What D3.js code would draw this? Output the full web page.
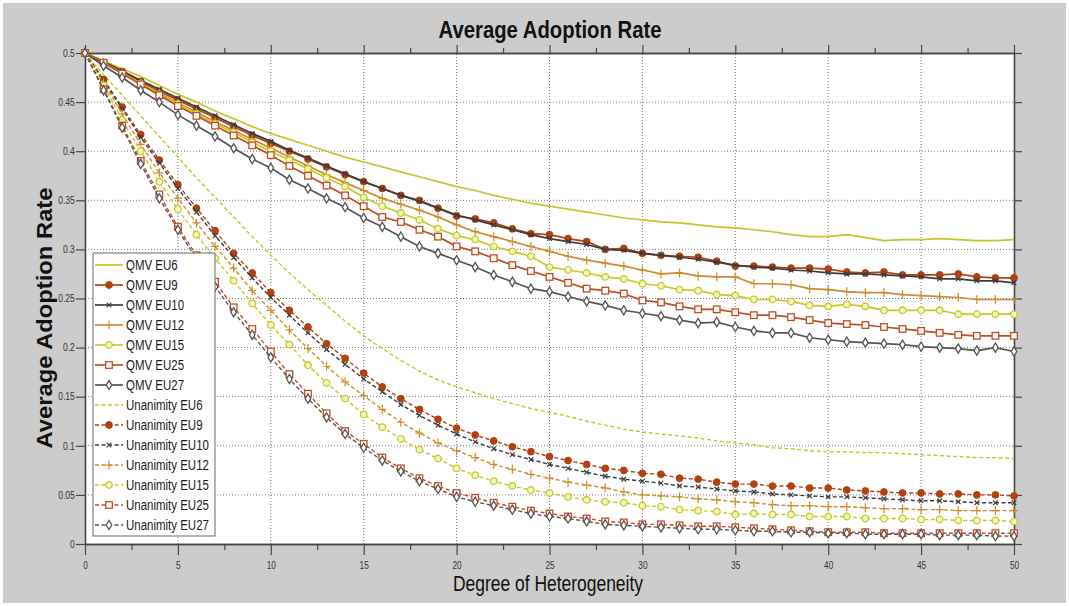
<!DOCTYPE html>
<html>
<head>
<meta charset="utf-8">
<script src="https://cdn.jsdelivr.net/npm/d3@7"></script>
<style>
  body { margin: 0; background: #fff; }
  svg text { font-family: "Liberation Sans", Arial, sans-serif; }
</style>
</head>
<body>
<svg id="chart" width="1069" height="606"></svg>
<script>
// degree of heterogeneity (x categories)
const degree = [0,1,2,3,4,5,6,7,8,9,10,11,12,13,14,15,16,17,18,19,20,21,22,23,24,25,
                26,27,28,29,30,31,32,33,34,35,36,37,38,39,40,41,42,43,44,45,46,47,48,49,50];

// QMV series
const qmvEU6  = [0.500,0.492,0.484,0.476,0.467,0.458,0.450,0.441,0.433,0.425,0.418,
                 0.412,0.406,0.400,0.394,0.389,0.384,0.379,0.374,0.369,0.364,
                 0.360,0.355,0.351,0.347,0.344,0.341,0.338,0.335,0.332,0.330,
                 0.328,0.327,0.325,0.323,0.322,0.320,0.318,0.315,0.313,0.313,
                 0.315,0.312,0.309,0.310,0.310,0.311,0.310,0.309,0.309,0.310];
const qmvEU9  = [0.500,0.490,0.481,0.471,0.461,0.452,0.443,0.434,0.425,0.416,0.408,
                 0.400,0.392,0.384,0.376,0.369,0.362,0.355,0.350,0.342,0.334,
                 0.331,0.327,0.321,0.316,0.315,0.311,0.308,0.300,0.301,0.296,
                 0.294,0.293,0.292,0.288,0.283,0.283,0.282,0.281,0.281,0.280,
                 0.277,0.276,0.277,0.274,0.274,0.274,0.275,0.272,0.271,0.271];
const qmvEU10 = [0.500,0.491,0.482,0.472,0.463,0.454,0.445,0.436,0.427,0.418,0.410,
                 0.401,0.393,0.385,0.377,0.369,0.362,0.355,0.349,0.342,0.335,
                 0.330,0.325,0.320,0.315,0.311,0.308,0.305,0.300,0.299,0.296,
                 0.294,0.292,0.290,0.287,0.284,0.282,0.281,0.279,0.278,0.276,
                 0.275,0.275,0.274,0.273,0.272,0.270,0.270,0.268,0.268,0.266];
const qmvEU12 = [0.500,0.490,0.480,0.469,0.459,0.449,0.440,0.430,0.421,0.412,0.403,
                 0.394,0.385,0.376,0.368,0.360,0.352,0.346,0.340,0.333,0.325,
                 0.318,0.313,0.308,0.303,0.298,0.293,0.289,0.286,0.283,0.279,
                 0.275,0.276,0.273,0.272,0.272,0.265,0.265,0.264,0.260,0.259,
                 0.257,0.256,0.256,0.254,0.253,0.252,0.251,0.249,0.249,0.249];
const qmvEU15 = [0.500,0.490,0.479,0.469,0.458,0.448,0.438,0.428,0.419,0.409,0.400,
                 0.391,0.382,0.373,0.364,0.353,0.344,0.337,0.330,0.321,0.314,
                 0.310,0.303,0.298,0.293,0.282,0.279,0.276,0.272,0.270,0.265,
                 0.263,0.259,0.258,0.254,0.253,0.249,0.249,0.247,0.243,0.242,
                 0.244,0.242,0.238,0.238,0.238,0.238,0.234,0.234,0.234,0.234];
const qmvEU25 = [0.500,0.490,0.479,0.468,0.457,0.446,0.436,0.426,0.416,0.406,0.396,
                 0.385,0.375,0.365,0.355,0.344,0.333,0.328,0.320,0.313,0.303,
                 0.298,0.291,0.284,0.278,0.272,0.266,0.260,0.258,0.255,0.248,
                 0.246,0.242,0.239,0.239,0.236,0.233,0.233,0.231,0.228,0.225,
                 0.224,0.223,0.221,0.219,0.217,0.215,0.213,0.212,0.212,0.212];
const qmvEU27 = [0.500,0.487,0.475,0.462,0.450,0.437,0.426,0.415,0.403,0.392,0.383,
                 0.371,0.362,0.352,0.343,0.332,0.323,0.313,0.303,0.296,0.289,
                 0.282,0.274,0.267,0.260,0.257,0.252,0.247,0.243,0.238,0.235,
                 0.232,0.228,0.225,0.226,0.221,0.217,0.215,0.215,0.210,0.208,
                 0.206,0.205,0.204,0.203,0.201,0.200,0.199,0.197,0.200,0.196];

// Unanimity series
const unaEU6  = [0.500,0.478,0.457,0.436,0.415,0.394,0.373,0.353,0.333,0.313,0.294,
                 0.276,0.259,0.243,0.227,0.212,0.199,0.187,0.176,0.167,0.160,
                 0.154,0.148,0.143,0.138,0.134,0.130,0.125,0.121,0.117,0.114,
                 0.112,0.110,0.108,0.105,0.103,0.101,0.098,0.097,0.095,0.094,
                 0.094,0.093,0.093,0.092,0.091,0.090,0.089,0.088,0.088,0.087];
const unaEU9  = [0.500,0.473,0.445,0.417,0.391,0.366,0.342,0.319,0.296,0.276,0.256,
                 0.238,0.221,0.204,0.189,0.174,0.160,0.148,0.137,0.127,0.118,
                 0.111,0.105,0.099,0.094,0.089,0.085,0.081,0.077,0.075,0.072,
                 0.071,0.067,0.066,0.063,0.061,0.061,0.059,0.059,0.057,0.057,
                 0.055,0.054,0.053,0.052,0.052,0.051,0.051,0.050,0.050,0.049];
const unaEU10 = [0.500,0.472,0.443,0.414,0.388,0.362,0.338,0.314,0.292,0.271,0.251,
                 0.233,0.215,0.198,0.183,0.168,0.155,0.142,0.131,0.121,0.112,
                 0.104,0.097,0.091,0.086,0.081,0.077,0.073,0.069,0.066,0.064,
                 0.062,0.059,0.058,0.056,0.054,0.053,0.051,0.050,0.049,0.048,
                 0.048,0.047,0.046,0.045,0.044,0.044,0.043,0.042,0.042,0.042];
const unaEU12 = [0.500,0.470,0.438,0.407,0.378,0.352,0.327,0.303,0.281,0.258,0.238,
                 0.218,0.199,0.181,0.165,0.151,0.137,0.124,0.113,0.103,0.095,
                 0.088,0.081,0.076,0.071,0.067,0.063,0.060,0.057,0.053,0.050,
                 0.049,0.048,0.046,0.045,0.043,0.042,0.040,0.039,0.039,0.038,
                 0.038,0.037,0.036,0.036,0.035,0.035,0.034,0.034,0.034,0.034];
const unaEU15 = [0.500,0.467,0.432,0.400,0.369,0.341,0.315,0.291,0.268,0.245,0.223,
                 0.203,0.182,0.164,0.148,0.132,0.119,0.107,0.096,0.087,0.077,
                 0.070,0.064,0.059,0.055,0.052,0.048,0.045,0.043,0.042,0.039,
                 0.038,0.035,0.034,0.033,0.030,0.031,0.030,0.030,0.028,0.028,
                 0.028,0.026,0.026,0.026,0.025,0.025,0.024,0.024,0.024,0.023];
const unaEU25 = [0.500,0.463,0.426,0.390,0.356,0.323,0.294,0.267,0.241,0.219,0.196,
                 0.173,0.153,0.133,0.115,0.102,0.088,0.077,0.067,0.059,0.052,
                 0.047,0.042,0.038,0.034,0.031,0.028,0.026,0.023,0.022,0.020,
                 0.020,0.019,0.018,0.018,0.017,0.016,0.015,0.014,0.013,0.012,
                 0.012,0.012,0.011,0.011,0.011,0.011,0.011,0.011,0.011,0.011];
const unaEU27 = [0.500,0.462,0.424,0.387,0.352,0.320,0.290,0.262,0.236,0.213,0.190,
                 0.168,0.148,0.129,0.112,0.098,0.085,0.074,0.064,0.056,0.048,
                 0.043,0.039,0.035,0.031,0.028,0.026,0.023,0.020,0.019,0.018,
                 0.017,0.016,0.015,0.015,0.014,0.013,0.013,0.012,0.012,0.011,
                 0.011,0.010,0.010,0.010,0.010,0.009,0.009,0.009,0.008,0.008];

const seriesNames = ["QMV EU6","QMV EU9","QMV EU10","QMV EU12","QMV EU15","QMV EU25","QMV EU27",
                     "Unanimity EU6","Unanimity EU9","Unanimity EU10","Unanimity EU12",
                     "Unanimity EU15","Unanimity EU25","Unanimity EU27"];
const seriesValues = [qmvEU6, qmvEU9, qmvEU10, qmvEU12, qmvEU15, qmvEU25, qmvEU27,
                      unaEU6, unaEU9, unaEU10, unaEU12, unaEU15, unaEU25, unaEU27];

const xTicks = [0,5,10,15,20,25,30,35,40,45,50];
const xMinor = [2.5,7.5,12.5,17.5,22.5,27.5,32.5,37.5,42.5,47.5];
const yTicks = [0,0.05,0.1,0.15,0.2,0.25,0.3,0.35,0.4,0.45,0.5];
const yTickLabels = ["0","0.05","0.1","0.15","0.2","0.25","0.3","0.35","0.4","0.45","0.5"];

// styles per EU size (same for QMV and Unanimity)
const euStyle = [
  {color: "#c6c62a", marker: "none"},
  {color: "#b3400f", marker: "dot"},
  {color: "#3c3c3c", marker: "x"},
  {color: "#cf8c2c", marker: "plus"},
  {color: "#c4cb22", marker: "circle"},
  {color: "#c24e24", marker: "square"},
  {color: "#555555", marker: "diamond"}
];

const svg = d3.select("#chart");
const W = 1069, H = 606;

svg.append("rect").attr("x", 3).attr("y", 3).attr("width", W - 6).attr("height", H - 6)
   .attr("fill", "#cccccc");

const x = d3.scaleLinear().domain([0, 50]).range([85, 1014]);
const y = d3.scaleLinear().domain([0, 0.5]).range([544, 53]);

// plot area
svg.append("rect")
   .attr("x", x(0)).attr("y", y(0.5))
   .attr("width", x(50) - x(0)).attr("height", y(0) - y(0.5))
   .attr("fill", "#fff");

// grid
let grid = svg.append("g").attr("stroke", "#7a7a7a").attr("stroke-width", 1)
              .attr("stroke-dasharray", "1,2");
grid.selectAll(".gx").data(xTicks.slice(1, -1)).enter().append("line")
    .attr("x1", d => x(d)).attr("x2", d => x(d))
    .attr("y1", y(0)).attr("y2", y(0.5));
grid.selectAll(".gy").data(yTicks.slice(1, -1)).enter().append("line")
    .attr("x1", x(0)).attr("x2", x(50))
    .attr("y1", d => y(d)).attr("y2", d => y(d));

// axes
function styleAxis(g){
    g.select(".domain").attr("stroke", "#474747").attr("stroke-width", 1.6);
    g.selectAll(".tick line").attr("stroke", "#474747").attr("stroke-width", 1.2);
    g.selectAll("text").attr("fill", "#333").attr("font-family", "Liberation Sans, Arial, sans-serif");
}

svg.append("g").attr("transform", `translate(0,${y(0)})`)
   .call(d3.axisBottom(x).tickValues(xTicks).tickSize(11).tickSizeOuter(0).tickPadding(6))
   .call(styleAxis)
   .call(g => g.selectAll("text").attr("font-size", 11).attr("transform", "scale(0.75,1)"));
svg.append("g").attr("transform", `translate(0,${y(0)})`)
   .call(d3.axisBottom(x).tickValues(xMinor).tickSize(6).tickSizeOuter(0).tickFormat(""))
   .call(styleAxis);

svg.append("g").attr("transform", `translate(0,${y(0.5)})`)
   .call(d3.axisTop(x).tickValues(xTicks).tickSize(8).tickSizeOuter(0).tickFormat(""))
   .call(styleAxis);
svg.append("g").attr("transform", `translate(0,${y(0.5)})`)
   .call(d3.axisTop(x).tickValues(xMinor).tickSize(5).tickSizeOuter(0).tickFormat(""))
   .call(styleAxis);

svg.append("g").attr("transform", `translate(${x(0)},0)`)
   .call(d3.axisLeft(y).tickValues(yTicks).tickSize(9).tickSizeOuter(0).tickPadding(3)
         .tickFormat((d, i) => yTickLabels[i]))
   .call(styleAxis)
   .call(g => g.selectAll("text").attr("font-size", 10).attr("transform", "scale(0.85,1)"));
svg.append("g").attr("transform", `translate(${x(50)},0)`)
   .call(d3.axisRight(y).tickValues(yTicks).tickSize(8).tickSizeOuter(0).tickFormat(""))
   .call(styleAxis);

// markers
function drawMarker(g, type, color){
    if (type === "dot") {
        g.append("circle").attr("r", 3.4).attr("fill", color).attr("stroke", color);
    } else if (type === "circle") {
        g.append("circle").attr("r", 3.3).attr("fill", "#f3f5c4").attr("stroke", color).attr("stroke-width", 1.3);
    } else if (type === "square") {
        g.append("rect").attr("x", -3.3).attr("y", -3.3).attr("width", 6.6).attr("height", 6.6)
         .attr("fill", "#fff").attr("stroke", color).attr("stroke-width", 1.3);
    } else if (type === "diamond") {
        g.append("path").attr("d", "M0,-4.6L2.8,0L0,4.6L-2.8,0Z")
         .attr("fill", "#fff").attr("stroke", color).attr("stroke-width", 1.3);
    } else if (type === "plus") {
        g.append("path").attr("d", "M-4,0H4M0,-4.5V4.5").attr("stroke", color).attr("stroke-width", 1.2);
    } else if (type === "x") {
        g.append("path").attr("d", "M-2.3,-2.3L2.3,2.3M2.3,-2.3L-2.3,2.3").attr("stroke", color).attr("stroke-width", 1.2);
    }
}

const line = d3.line().x((d, i) => x(degree[i])).y(d => y(d));

const plot = svg.append("g");
seriesValues.forEach(function(vals, s){
    let st = euStyle[s % 7];
    let dashed = s >= 7;
    let g = plot.append("g");
    g.append("path").datum(vals)
     .attr("d", line)
     .attr("fill", "none")
     .attr("stroke", st.color)
     .attr("stroke-width", dashed ? 1.4 : 1.7)
     .attr("stroke-dasharray", dashed ? "4,2.5" : null);
    if (st.marker !== "none") {
        g.selectAll(".m").data(vals).enter().append("g")
         .attr("transform", (d, i) => `translate(${x(degree[i])},${y(d)})`)
         .each(function(){ drawMarker(d3.select(this), st.marker, st.color); });
    }
});

// legend
const legend = svg.append("g");
legend.append("rect").attr("x", 93).attr("y", 253).attr("width", 122).attr("height", 283)
      .attr("fill", "#fff").attr("stroke", "#6a6a6a").attr("stroke-width", 1);
seriesNames.forEach(function(name, i){
    let st = euStyle[i % 7];
    let cy = 265 + i * 20;
    let item = legend.append("g");
    item.append("line").attr("x1", 95).attr("x2", 123).attr("y1", cy).attr("y2", cy)
        .attr("stroke", st.color).attr("stroke-width", i >= 7 ? 1.4 : 1.7)
        .attr("stroke-dasharray", i >= 7 ? "4,2.5" : null);
    if (st.marker !== "none") {
        drawMarker(item.append("g").attr("transform", `translate(109,${cy})`), st.marker, st.color);
    }
    item.append("text")
        .attr("transform", `translate(126,${cy + 5}) scale(0.82,1)`)
        .attr("font-size", 14).attr("fill", "#1a1a1a")
        .text(name);
});

// titles
svg.append("text").attr("x", 550).attr("y", 38)
   .attr("text-anchor", "middle").attr("font-size", 23).attr("font-weight", "bold")
   .attr("textLength", 223).attr("lengthAdjust", "spacingAndGlyphs")
   .attr("fill", "#111").text("Average Adoption Rate");

svg.append("text").attr("x", 548).attr("y", 591)
   .attr("text-anchor", "middle").attr("font-size", 22)
   .attr("textLength", 190).attr("lengthAdjust", "spacingAndGlyphs")
   .attr("fill", "#111").text("Degree of Heterogeneity");

svg.append("text").attr("transform", "translate(52,318) rotate(-90)")
   .attr("text-anchor", "middle").attr("font-size", 22).attr("font-weight", "bold")
   .attr("textLength", 261).attr("lengthAdjust", "spacingAndGlyphs")
   .attr("fill", "#111").text("Average Adoption Rate");
</script>
</body>
</html>
